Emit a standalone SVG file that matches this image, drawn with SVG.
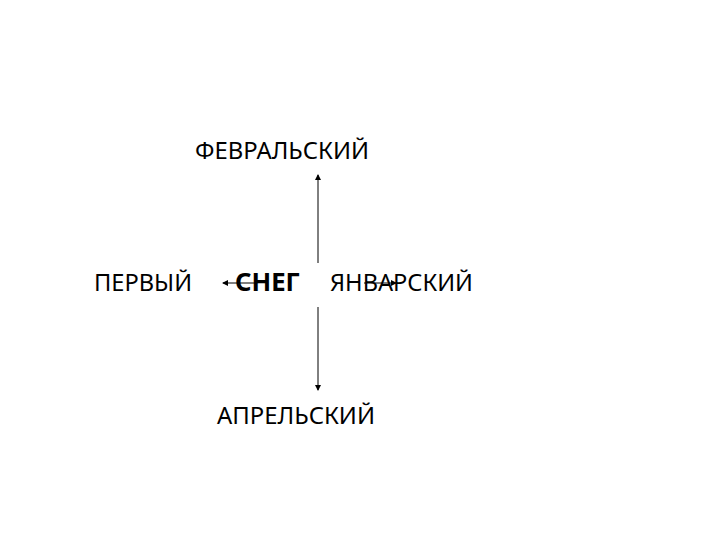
<svg xmlns="http://www.w3.org/2000/svg" width="720" height="540" viewBox="0 0 720 540">
<style>
.t{font-family:"Noto Sans","Liberation Sans",sans-serif;font-size:24px;fill:#000}
.b{font-weight:bold;font-size:25px}
.c{stroke:#000;stroke-width:1;fill:none}
</style>
<defs>
<marker id="ah" markerWidth="6" markerHeight="6" refX="5" refY="3" orient="auto" markerUnits="userSpaceOnUse">
<path d="M0,0 L6,3 L0,6 Z" fill="#000"/>
</marker>
</defs>
<rect width="720" height="540" fill="#fff"/>
<g id="connectors">
<line class="c" x1="318" y1="263" x2="318" y2="175" marker-end="url(#ah)"/>
<line class="c" x1="318" y1="307" x2="318" y2="390" marker-end="url(#ah)"/>
<line class="c" x1="256" y1="283" x2="223" y2="283" marker-end="url(#ah)"/>
<line class="c" x1="364" y1="283" x2="396" y2="283" marker-end="url(#ah)"/>
</g>
<g id="node-feb"><text class="t" x="195" y="159" textLength="174" lengthAdjust="spacingAndGlyphs">ФЕВРАЛЬСКИЙ</text></g>
<g id="node-first"><text class="t" x="94" y="291" textLength="98" lengthAdjust="spacingAndGlyphs">ПЕРВЫЙ</text></g>
<g id="node-snow"><text class="t b" x="235" y="291" textLength="65" lengthAdjust="spacingAndGlyphs">СНЕГ</text></g>
<g id="node-jan"><text class="t" x="330" y="291" textLength="143" lengthAdjust="spacingAndGlyphs">ЯНВАРСКИЙ</text></g>
<g id="node-apr"><text class="t" x="217" y="424" textLength="158" lengthAdjust="spacingAndGlyphs">АПРЕЛЬСКИЙ</text></g>
</svg>
